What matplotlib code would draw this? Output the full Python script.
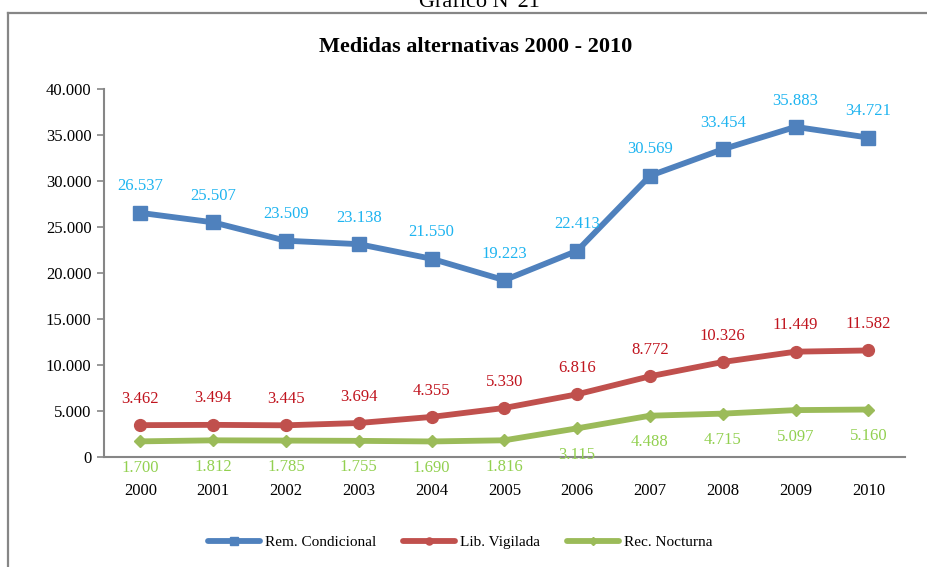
import matplotlib.pyplot as plt
from matplotlib.lines import Line2D
from matplotlib.ticker import FuncFormatter

plt.rcParams['font.family'] = ['Liberation Serif', 'DejaVu Serif']

# data
years = ["2000", "2001", "2002", "2003", "2004", "2005", "2006", "2007", "2008", "2009", "2010"]
rem_condicional = [26537, 25507, 23509, 23138, 21550, 19223, 22413, 30569, 33454, 35883, 34721]
lib_vigilada = [3462, 3494, 3445, 3694, 4355, 5330, 6816, 8772, 10326, 11449, 11582]
rec_nocturna = [1700, 1812, 1785, 1755, 1690, 1816, 3115, 4488, 4715, 5097, 5160]


def miles(v):
    return f"{int(round(v)):,}".replace(",", ".")


fig = plt.figure(figsize=(9.28, 5.67), dpi=100)
ax = fig.add_axes([0.112, 0.194, 0.863, 0.649])

x = list(range(len(years)))
series = [
    ("Rem. Condicional", rem_condicional, "#4F81BD", "s", 9.5, "#1EB4F0", 1),
    ("Lib. Vigilada", lib_vigilada, "#C0504D", "o", 8.5, "#C0141E", 1),
    ("Rec. Nocturna", rec_nocturna, "#9BBB59", "D", 6.5, "#92D050", -1),
]

for name, vals, col, mk, ms, lcol, side in series:
    ax.plot(x, vals, color=col, lw=4.2, marker=mk, markersize=ms,
            markerfacecolor=col, markeredgecolor=col, label=name, solid_capstyle="round")
    for xi, v in zip(x, vals):
        ax.annotate(miles(v), (xi, v), xytext=(0, 19 * side), textcoords="offset points",
                    ha="center", va="center", color=lcol, fontsize=12)

ax.set_xlim(-0.5, 10.5)
ax.set_ylim(0, 40000)
ax.set_yticks(range(0, 40001, 5000))
ax.yaxis.set_major_formatter(FuncFormatter(lambda v, p: miles(v)))
ax.set_xticks(x)
ax.set_xticklabels(years)
ax.tick_params(axis="x", length=0, pad=19, labelsize=12)
ax.tick_params(axis="y", length=5, color="#868686", width=1.2, labelsize=12, pad=4)

for s in ["top", "right"]:
    ax.spines[s].set_visible(False)
for s in ["left", "bottom"]:
    ax.spines[s].set_color("#868686")
    ax.spines[s].set_linewidth(1.5)

fig.text(0.513, 1 - 52 / 567, "Medidas alternativas 2000 - 2010", ha="center",
         va="baseline", fontsize=16, fontweight="bold")
# page caption, cut by the top edge as in the source
fig.text(0.517, 1 - 7 / 567, "Gráfico N°21", ha="center", va="baseline", fontsize=16)

# outer frame
fig.add_artist(Line2D([8 / 928, 1], [1 - 13 / 567] * 2, color="#868686", lw=1.6))
fig.add_artist(Line2D([8 / 928] * 2, [0, 1 - 13 / 567], color="#868686", lw=1.6))

fig.legend(loc="center", bbox_to_anchor=(0.496, 1 - 542 / 567), ncol=3, frameon=False,
           fontsize=11, handlelength=3.4, handletextpad=0.3, columnspacing=1.8,
           markerscale=0.6)

fig.savefig("out.png", dpi=100)
